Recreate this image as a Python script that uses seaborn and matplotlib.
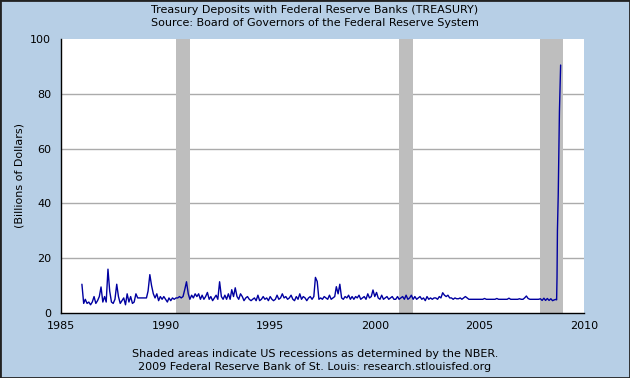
import numpy as np
import pandas as pd
import matplotlib
matplotlib.use('Agg')
import matplotlib.pyplot as plt
import matplotlib.dates as mdates
import seaborn as sns

# monthly values (billions of dollars), Jan 1986 - Aug 2008
monthly = [
    10.5, 3.5, 5, 3.5, 4, 3, 4, 6, 3.5, 4.5, 6, 9.5,      # 1986
    4, 6, 4, 16, 8, 4, 3.5, 5, 10.5, 6, 3.5, 4.5,          # 1987
    5.5, 3, 7, 4, 6, 3.5, 4, 7, 5.5, 5.5, 5.5, 5.5,        # 1988
    5.5, 5.5, 8, 14, 10, 7, 5.5, 7, 4.5, 6, 5, 6,          # 1989
    5, 4, 5.5, 4.5, 5.5, 5, 5.5, 5.5, 6, 5.5, 6, 8.5,      # 1990
    11.4, 7, 5, 6.5, 5.5, 7, 6, 7, 5, 6.5, 5, 6,           # 1991
    7.5, 5, 6, 4.5, 5.5, 6.5, 5, 11.4, 6, 5, 6.5, 5,       # 1992
    7, 5, 8.5, 6, 9.2, 6, 5, 7, 6, 4.5, 5.5, 6,            # 1993
    5, 4.5, 5, 5.5, 4.5, 6.5, 4.5, 5, 6, 5, 5.5, 4.5,      # 1994
    6, 5, 4.5, 5, 6.5, 5, 5.5, 7, 5.5, 6, 5, 5.5,          # 1995
    6.5, 5, 4.5, 6, 5, 7, 5, 6, 5.5, 4.5, 5.5, 6,          # 1996
    5, 6, 13, 11.5, 5, 5.5, 5, 6, 5.5, 5, 6.5, 5,          # 1997
    5.5, 6, 9.6, 7, 10.5, 5.5, 5, 6, 5.5, 6.5, 5, 6,       # 1998
    5, 6, 5.5, 6.5, 5, 5.5, 6, 5, 7, 5.5, 6, 8.4,          # 1999
    6, 7.5, 5.5, 5, 6.5, 5, 5.5, 6, 5, 5.5, 6, 5,          # 2000
    5, 6, 5, 5.5, 6, 5, 6.5, 5, 5.5, 6.5, 5, 6,            # 2001
    5, 5.5, 6, 5, 5.5, 4.5, 6, 5, 5.5, 5, 5.5, 5.5,        # 2002
    5, 6, 5.5, 7.4, 6.5, 6, 6.5, 5.5, 5.5, 5, 5.5, 5.2,    # 2003
    5.2, 5.5, 5, 5.5, 6, 5.5, 5, 5, 5, 5, 5, 5,            # 2004
    5, 5, 5, 5.3, 5, 5, 5, 5, 5, 5, 5.3, 5,                # 2005
    5, 5, 5, 5, 5, 5.4, 5, 5, 5, 5, 5, 5.2,                # 2006
    5, 5, 5.5, 6.2, 5.3, 5, 5, 5, 5, 5, 5, 5.2,            # 2007
    4.6, 5.4, 4.6, 5.3, 4.6, 5.2, 4.5, 4.8,                # 2008
]
monthly_dates = pd.date_range('1986-01-01', periods=len(monthly), freq='MS')

# weekly values at the end of the series
tail_dates = pd.to_datetime(['2008-09-03', '2008-09-10', '2008-09-17', '2008-09-24',
                             '2008-10-08', '2008-10-29', '2008-11-19'])
tail_values = [5, 4.8, 13, 30, 43, 73.5, 90.5]

recessions = [('1990-07-01', '1991-03-01'), ('2001-03-01', '2001-11-01'),
              ('2007-12-01', '2009-01-01')]

df = pd.DataFrame({
    'date': list(monthly_dates) + list(tail_dates),
    'value': monthly + tail_values,
})

bg = '#B7CFE6'
sns.set_style('white')
plt.rcParams['font.family'] = ['DejaVu Sans']
plt.rcParams['text.color'] = 'black'
plt.rcParams['axes.labelcolor'] = 'black'
plt.rcParams['xtick.color'] = 'black'
plt.rcParams['ytick.color'] = 'black'

fig = plt.figure(figsize=(6.3, 3.78), dpi=100, facecolor=bg)
ax = fig.add_axes([61 / 630, 1 - 313 / 378, 523 / 630, 274 / 378])
ax.set_facecolor('white')

for start, end in recessions:
    ax.axvspan(pd.Timestamp(start), pd.Timestamp(end), color='#BEBEBE', lw=0, zorder=1)

for y in [20, 40, 60, 80]:
    ax.axhline(y, color='#ABABAB', lw=1, zorder=0.5)

sns.lineplot(data=df, x='date', y='value', ax=ax, color='#0000A0', lw=1, zorder=3)

ax.set_xlim(pd.Timestamp('1985-01-01'), pd.Timestamp('2010-01-01'))
ax.set_ylim(0, 100)
ax.set_yticks([0, 20, 40, 60, 80, 100])
ax.xaxis.set_major_locator(mdates.YearLocator(5))
ax.xaxis.set_major_formatter(mdates.DateFormatter('%Y'))
ax.tick_params(axis='both', direction='in', length=5, width=1, color='black',
               labelsize=8, labelcolor='black')
ax.tick_params(axis='x', pad=6)
ax.tick_params(axis='y', pad=7)
ax.set_xlabel('')
ax.set_ylabel('(Billions of Dollars)', fontsize=8, labelpad=4, color='black')

for side in ['top', 'right']:
    ax.spines[side].set_visible(False)
for side in ['left', 'bottom']:
    ax.spines[side].set_color('black')
    ax.spines[side].set_linewidth(1)

fig.text(0.5, 1 - 10 / 378, 'Treasury Deposits with Federal Reserve Banks (TREASURY)',
         ha='center', va='center', fontsize=8)
fig.text(0.5, 1 - 23 / 378, 'Source: Board of Governors of the Federal Reserve System',
         ha='center', va='center', fontsize=8)
fig.text(0.5, 1 - 354 / 378, 'Shaded areas indicate US recessions as determined by the NBER.',
         ha='center', va='center', fontsize=8)
fig.text(0.5, 1 - 367 / 378, '2009 Federal Reserve Bank of St. Louis: research.stlouisfed.org',
         ha='center', va='center', fontsize=8)

fig.patches.append(plt.Rectangle((0, 0), 1, 1, transform=fig.transFigure,
                                 fill=False, edgecolor='#222222', lw=2))

fig.savefig('out.png', dpi=100, facecolor=bg)
